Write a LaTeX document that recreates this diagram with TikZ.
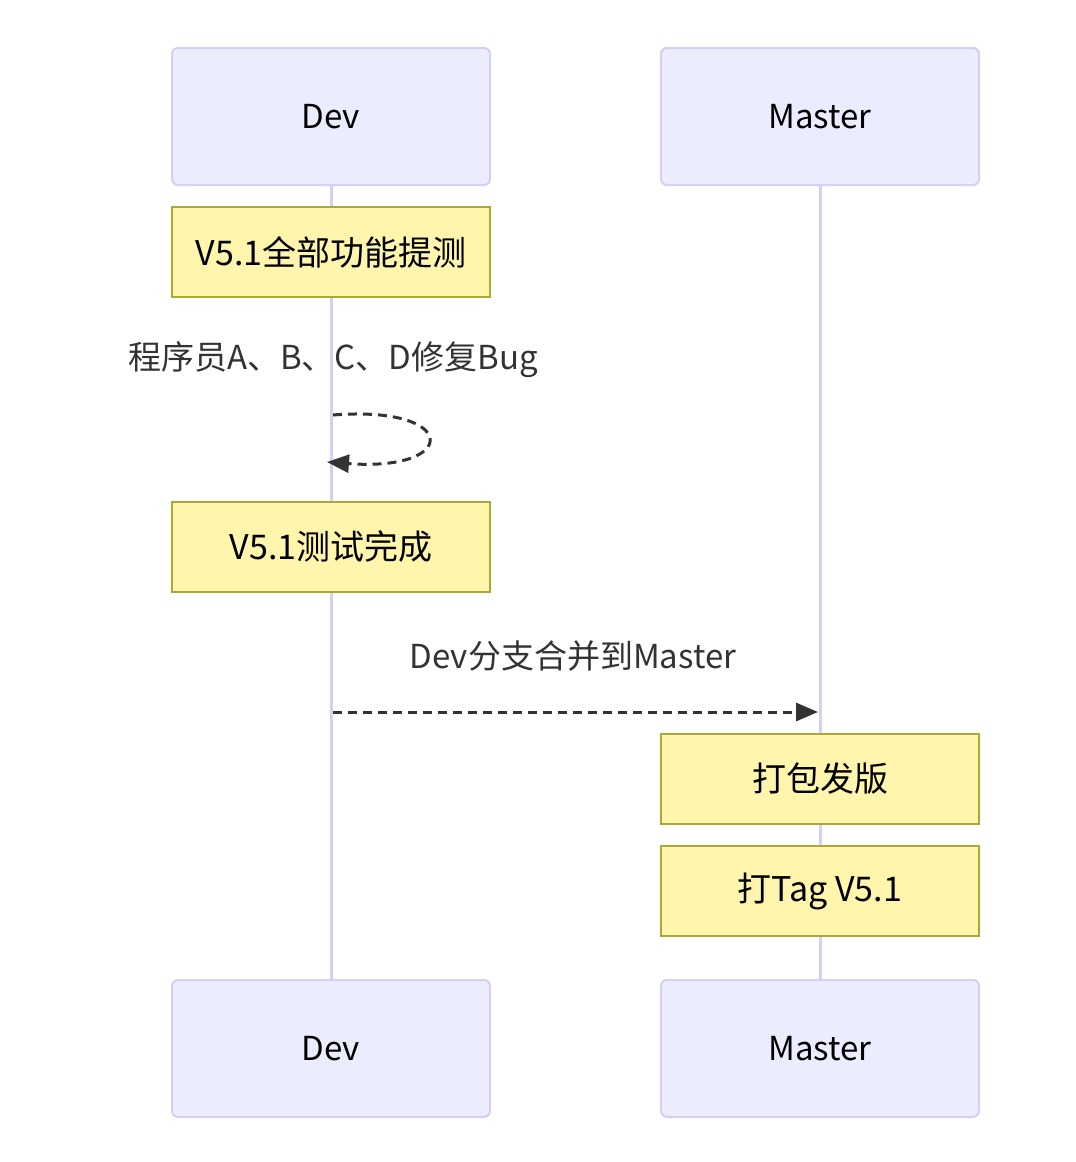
\documentclass[tikz,border=0pt]{standalone}
\usepackage{fontspec}
\setmainfont{Noto Sans CJK SC}
\usepackage{xcolor}
\definecolor{actorfill}{RGB}{236, 236, 255}
\definecolor{actorline}{RGB}{214, 206, 245}
\definecolor{notefill}{RGB}{255, 245, 173}
\definecolor{noteline}{RGB}{170, 170, 51}
\definecolor{msgdark}{RGB}{51, 51, 51}
\usetikzlibrary{arrows.meta, positioning, backgrounds}

\begin{document}
\begin{tikzpicture}[
    x=1pt, y=-1pt,
    actor/.style={rectangle, draw=actorline, fill=actorfill, line width=2pt,
                  minimum width=318pt, minimum height=137pt,
                  rounded corners=6pt, font=\fontsize{33}{40}\selectfont},
    note/.style={rectangle, draw=noteline, fill=notefill, line width=2pt,
                 minimum width=318pt, minimum height=90pt,
                 font=\fontsize{34}{40}\selectfont},
    msglabel/.style={text=msgdark, font=\fontsize{33}{40}\selectfont},
    lifeline/.style={actorline, line width=3pt},
    msg/.style={-{Triangle[length=22pt,width=18pt]}, msgdark, line width=3pt,
                dash pattern=on 9pt off 6pt}
]
    \useasboundingbox (0,0) rectangle (1076,1162);

    % Participants
    \node[actor] (devtop) at (331,116.5) {Dev};
    \node[actor] (mastertop) at (820,116.5) {Master};
    \node[actor] (devbot) at (331,1048.5) {Dev};
    \node[actor] (masterbot) at (820,1048.5) {Master};

    % Notes
    \node[note] (alltest) at (331,252) {V5.1全部功能提测};
    \node[note] (testdone) at (331,547) {V5.1测试完成};
    \node[note] (release) at (820,779) {打包发版};
    \node[note] (tag) at (820,891) {打Tag V5.1};

    \begin{scope}[on background layer]
        \draw[lifeline] (devtop.south) -- (devbot.north);
        \draw[lifeline] (mastertop.south) -- (masterbot.north);
    \end{scope}

    % Self message on Dev
    \coordinate (loopout) at (333,415);
    \coordinate (loopin) at (327,462);
    \node[msglabel] (fixlabel) at (333,360) {程序员A、B、C、D修复Bug};
    \draw[msg] (loopout) .. controls (460,405) and (460,472) .. (loopin);

    % Merge message
    \coordinate (mergefrom) at (333,712);
    \coordinate (mergeto) at (818,712);
    \node[msglabel] (mergelabel) at (573,656) {Dev分支合并到Master};
    \draw[msg] (mergefrom) -- (mergeto);
\end{tikzpicture}
\end{document}
